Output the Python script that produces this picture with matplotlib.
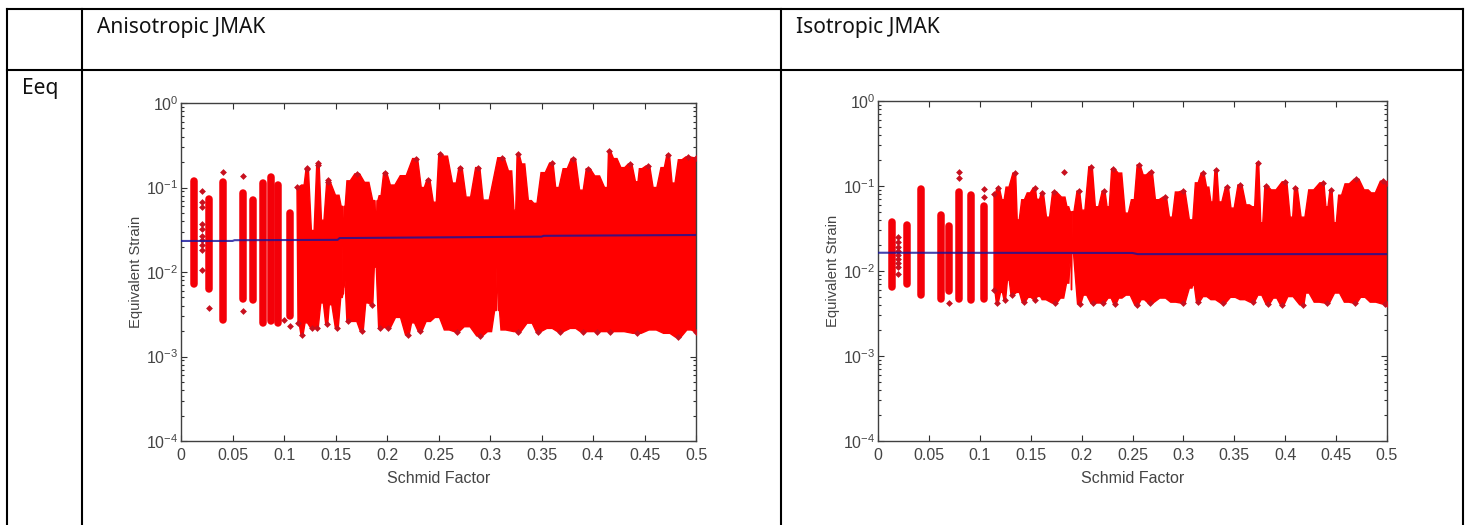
"""
Tabla de dos paneles: deformacion equivalente vs factor de Schmid (JMAK).
Ejecuta:
    python plot.py
"""

import matplotlib
matplotlib.use("Agg")
import matplotlib.pyplot as plt
from matplotlib.lines import Line2D
from matplotlib.ticker import FixedLocator, NullFormatter
import numpy as np

W, H = 1470, 525

plt.rcParams["font.family"] = ["Liberation Sans", "DejaVu Sans"]
plt.rcParams["mathtext.default"] = "regular"
plt.rcParams["axes.unicode_minus"] = False

X_TICKS = [0, 0.05, 0.1, 0.15, 0.2, 0.25, 0.3, 0.35, 0.4, 0.45, 0.5]
X_LABELS = ["0", "0.05", "0.1", "0.15", "0.2", "0.25", "0.3", "0.35", "0.4", "0.45", "0.5"]

# --- Anisotropic JMAK ---
# columnas aisladas de granos
aniso_bar_x = [0.013, 0.0275, 0.041, 0.060, 0.0696, 0.0797, 0.0874, 0.094, 0.1058]
aniso_bar_hi = [0.120, 0.074, 0.115, 0.086, 0.072, 0.112, 0.134, 0.107, 0.050]
aniso_bar_lo = [0.0072, 0.0063, 0.0027, 0.0048, 0.0046, 0.0025, 0.0026, 0.0025, 0.0030]
# puntos sueltos
aniso_pts_x = [0.0204, 0.0204, 0.0204, 0.0204, 0.0204, 0.0204, 0.0204, 0.0204, 0.0204, 0.0204,
               0.0275, 0.041, 0.060, 0.060, 0.1, 0.1058, 0.1223, 0.133, 0.1427]
aniso_pts_y = [0.091, 0.068, 0.058, 0.037, 0.032, 0.027, 0.024, 0.021, 0.018, 0.0106,
               0.0038, 0.154, 0.138, 0.0035, 0.0027, 0.0023, 0.17, 0.195, 0.123]
# contorno superior de la masa continua
aniso_top_x = [0.1126, 0.1186, 0.1223, 0.128, 0.133, 0.1375, 0.1427, 0.1524, 0.1565, 0.1575, 0.1585,
               0.162, 0.171, 0.1806, 0.188, 0.1895, 0.1905, 0.193, 0.198, 0.205, 0.2155, 0.228,
               0.235, 0.24, 0.2466, 0.2515, 0.2563, 0.266, 0.271, 0.2787, 0.2885, 0.295, 0.3117,
               0.32, 0.3243, 0.327, 0.332, 0.339, 0.3437, 0.3515, 0.36, 0.365, 0.373, 0.381, 0.389,
               0.395, 0.404, 0.4136, 0.4155, 0.4214, 0.429, 0.436, 0.443, 0.4457, 0.4534, 0.46,
               0.468, 0.473, 0.478, 0.4845, 0.492, 0.5]
aniso_top_y = [0.101, 0.107, 0.165, 0.031, 0.185, 0.041, 0.115, 0.081, 0.06, 0.0065, 0.06,
               0.12, 0.145, 0.115, 0.07, 0.035, 0.07, 0.08, 0.15, 0.107, 0.138, 0.22,
               0.10, 0.124, 0.067, 0.25, 0.235, 0.113, 0.172, 0.077, 0.172, 0.071, 0.225,
               0.157, 0.054, 0.25, 0.19, 0.07, 0.065, 0.15, 0.195, 0.10, 0.167, 0.22, 0.093,
               0.167, 0.137, 0.10, 0.27, 0.22, 0.172, 0.19, 0.117, 0.167, 0.18, 0.10,
               0.172, 0.245, 0.113, 0.213, 0.23, 0.225]
# contorno inferior de la masa continua
aniso_floor_x = [0.1136, 0.1175, 0.1214, 0.127, 0.132, 0.137, 0.1417, 0.1447, 0.1515, 0.1563, 0.1575,
                 0.1583, 0.162, 0.169, 0.1757, 0.1806, 0.1855, 0.1884, 0.193, 0.201, 0.2107, 0.2204,
                 0.225, 0.232, 0.24, 0.2486, 0.258, 0.2677, 0.2774, 0.2903, 0.30, 0.306, 0.307,
                 0.3085, 0.3114, 0.327, 0.339, 0.3467, 0.358, 0.368, 0.381, 0.39, 0.404, 0.4166,
                 0.426, 0.443, 0.458, 0.472, 0.4826, 0.494, 0.5]
aniso_floor_y = [0.0025, 0.0018, 0.0025, 0.0022, 0.0022, 0.0043, 0.0024, 0.0041, 0.0022, 0.0050, 0.0055,
                 0.0080, 0.0026, 0.0026, 0.0020, 0.0043, 0.0041, 0.0114, 0.0022, 0.0022, 0.0029, 0.0018,
                 0.0025, 0.0020, 0.0026, 0.0029, 0.00206, 0.00197, 0.00225, 0.00175, 0.00197, 0.0035, 0.0111,
                 0.0035, 0.00206, 0.00197, 0.00248, 0.00197, 0.00215, 0.00197, 0.00215, 0.00197, 0.00197, 0.00197,
                 0.00197, 0.00188, 0.00206, 0.00188, 0.0017, 0.00206, 0.00197]
# media
aniso_mean_x = [0, 0.05, 0.052, 0.152, 0.154, 0.25, 0.35, 0.352, 0.45, 0.5]
aniso_mean_y = [0.0233, 0.0233, 0.0238, 0.0240, 0.0252, 0.0257, 0.0262, 0.0268, 0.0272, 0.0274]

# --- Isotropic JMAK ---
iso_bar_x = [0.0138, 0.0285, 0.0422, 0.0619, 0.0697, 0.0795, 0.0913, 0.104]
iso_bar_hi = [0.038, 0.035, 0.092, 0.045, 0.034, 0.084, 0.078, 0.058]
iso_bar_lo = [0.0065, 0.0070, 0.0052, 0.0047, 0.0058, 0.0047, 0.0046, 0.0047]
iso_pts_x = [0.0196, 0.0196, 0.0196, 0.0196, 0.0196, 0.0196, 0.0196, 0.0196, 0.0196,
             0.0697, 0.0795, 0.0795, 0.104, 0.104, 0.1827]
iso_pts_y = [0.025, 0.022, 0.019, 0.0172, 0.0155, 0.014, 0.0125, 0.011, 0.0092,
             0.0042, 0.146, 0.125, 0.092, 0.075, 0.146]
iso_top_x = [0.114, 0.118, 0.123, 0.1267, 0.1345, 0.1375, 0.1424, 0.148, 0.154, 0.1565, 0.157, 0.158,
             0.161, 0.167, 0.173, 0.1827, 0.1866, 0.1895, 0.19, 0.191, 0.197, 0.2013, 0.209, 0.215,
             0.222, 0.226, 0.2307, 0.2377, 0.2445, 0.2504, 0.256, 0.262, 0.268, 0.274, 0.282, 0.2877,
             0.2936, 0.2995, 0.308, 0.313, 0.319, 0.324, 0.328, 0.332, 0.336, 0.343, 0.348, 0.3555,
             0.3635, 0.369, 0.373, 0.377, 0.381, 0.388, 0.4, 0.4065, 0.41, 0.4175, 0.425, 0.437,
             0.441, 0.445, 0.449, 0.4537, 0.4605, 0.47, 0.48, 0.486, 0.496, 0.5]
iso_top_y = [0.08, 0.095, 0.069, 0.097, 0.142, 0.04, 0.069, 0.083, 0.095, 0.07, 0.0055, 0.07,
             0.083, 0.043, 0.085, 0.074, 0.057, 0.05, 0.006, 0.05, 0.087, 0.052, 0.168, 0.057,
             0.087, 0.057, 0.159, 0.142, 0.048, 0.069, 0.177, 0.135, 0.146, 0.069, 0.074, 0.043,
             0.085, 0.087, 0.04, 0.109, 0.142, 0.097, 0.065, 0.154, 0.065, 0.097, 0.055, 0.103,
             0.06, 0.057, 0.187, 0.037, 0.10, 0.09, 0.112, 0.043, 0.095, 0.043, 0.09, 0.109,
             0.057, 0.09, 0.037, 0.078, 0.106, 0.12, 0.09, 0.083, 0.114, 0.109]
iso_floor_x = [0.114, 0.117, 0.1215, 0.1245, 0.128, 0.1316, 0.1375, 0.143, 0.149, 0.154, 0.1572, 0.158,
               0.1588, 0.162, 0.174, 0.181, 0.1866, 0.19, 0.198, 0.203, 0.211, 0.221, 0.2278, 0.2327,
               0.2377, 0.2455, 0.2543, 0.26, 0.267, 0.28, 0.29, 0.2995, 0.308, 0.3095, 0.314, 0.321,
               0.329, 0.339, 0.3486, 0.358, 0.368, 0.375, 0.383, 0.39, 0.397, 0.4045, 0.4175, 0.421,
               0.431, 0.441, 0.451, 0.4605, 0.4685, 0.476, 0.486, 0.498, 0.5]
iso_floor_y = [0.006, 0.0042, 0.0056, 0.0046, 0.0078, 0.0052, 0.0056, 0.0043, 0.0049, 0.0046, 0.005, 0.0167,
               0.005, 0.0046, 0.0042, 0.0048, 0.0072, 0.0163, 0.0041, 0.0052, 0.0042, 0.0042, 0.0048, 0.0041,
               0.0048, 0.0052, 0.0040, 0.0046, 0.0042, 0.0048, 0.0043, 0.0042, 0.0063, 0.0068, 0.0043, 0.0050,
               0.0046, 0.0042, 0.0049, 0.0046, 0.0043, 0.0052, 0.0041, 0.0048, 0.0040, 0.0050, 0.0040, 0.0055,
               0.0043, 0.0042, 0.0055, 0.0043, 0.0042, 0.0049, 0.0043, 0.0041, 0.0041]
iso_mean_x = [0, 0.25, 0.255, 0.5]
iso_mean_y = [0.0164, 0.0163, 0.0158, 0.0158]


def skyline(x, y):
    """Cada columna queda con techo plano y flancos inclinados hacia la siguiente."""
    x = np.asarray(x)
    y = np.asarray(y)
    gap = np.diff(x)
    left = x.copy()
    right = x.copy()
    left[1:] = x[1:] - 0.25 * gap
    right[:-1] = x[:-1] + 0.25 * gap
    return np.column_stack([left, right]).ravel(), np.repeat(y, 2)


def extremes(x, y, sign):
    """Solo los picos (sign=1) o los minimos (sign=-1) llevan marcador."""
    x = np.asarray(x)
    y = np.asarray(y) * sign
    keep = np.ones(len(y), dtype=bool)
    keep[1:-1] = (y[1:-1] >= y[:-2]) & (y[1:-1] >= y[2:])
    return x[keep], y[keep] * sign


def plot_panel(fig, box, bar, pts, top, floor, mean):
    left, top_px, right, bottom = box
    ax = fig.add_axes([left / W, 1 - bottom / H, (right - left) / W, (bottom - top_px) / H])
    ax.set_yscale("log")
    ax.set_xlim(0, 0.5)
    ax.set_ylim(1e-4, 1)

    # masa continua: contorno superior + inferior
    tx, ty = skyline(*top)
    fx, fy = skyline(*floor)
    ax.fill(np.concatenate([tx, fx[::-1]]), np.concatenate([ty, fy[::-1]]),
            color="#ff0000", lw=1.0, zorder=2)
    ax.vlines(bar[0], bar[2], bar[1], color="#f40008", lw=5.4, capstyle="round", zorder=2)

    # marcadores en los bordes
    mk = dict(marker="D", s=12, color="#c8101e", linewidths=0, zorder=3)
    ax.scatter(*extremes(*top, 1), **mk)
    ax.scatter(*extremes(*floor, -1), **mk)
    ax.scatter(pts[0], pts[1], **mk)

    ax.plot(mean[0], mean[1], color="#14149c", lw=1.5, alpha=0.8, zorder=4)

    ax.set_xticks(X_TICKS)
    ax.set_xticklabels(X_LABELS)
    ax.set_yticks([1e-4, 1e-3, 1e-2, 1e-1, 1])
    ax.set_yticklabels(["$10^{-4}$", "$10^{-3}$", "$10^{-2}$", "$10^{-1}$", "$10^{0}$"])
    minors = [m * 10.0 ** e for e in range(-4, 0) for m in range(2, 10)]
    ax.yaxis.set_minor_locator(FixedLocator(minors))
    ax.yaxis.set_minor_formatter(NullFormatter())
    ax.tick_params(axis="both", which="major", direction="in", top=True, right=True,
                   length=4, width=0.8, color="#303030", labelsize=11.5, labelcolor="#444444", pad=5)
    ax.tick_params(axis="y", which="major", pad=2)
    ax.tick_params(axis="y", which="minor", direction="in", left=True, right=True,
                   length=2.5, width=0.8, color="#303030")
    for s in ax.spines.values():
        s.set_color("#404040")
        s.set_linewidth(1.0)
    ax.set_xlabel("Schmid Factor", fontsize=11.5, color="#444444", labelpad=6)
    ax.set_ylabel("Equivalent Strain", fontsize=10.6, color="#444444", labelpad=2)
    return ax


def main():
    fig = plt.figure(figsize=(W / 100, H / 100), dpi=100, facecolor="white")

    # lineas de la tabla
    for x in [7, 82, 781, 1463]:
        fig.add_artist(Line2D([x / W, x / W], [1 - 9 / H, 0], color="black", lw=1.5))
    for y in [9, 70]:
        fig.add_artist(Line2D([7 / W, 1463 / W], [1 - y / H, 1 - y / H], color="black", lw=1.5))

    head = dict(fontsize=15.1, family="Noto Sans", color="#111111")
    fig.text(97 / W, 1 - 33 / H, "Anisotropic JMAK", **head)
    fig.text(796 / W, 1 - 33 / H, "Isotropic JMAK", **head)
    fig.text(22 / W, 1 - 94 / H, "Eeq", **head)

    plot_panel(fig, (181, 103, 696, 441),
               (aniso_bar_x, aniso_bar_hi, aniso_bar_lo), (aniso_pts_x, aniso_pts_y),
               (aniso_top_x, aniso_top_y), (aniso_floor_x, aniso_floor_y),
               (aniso_mean_x, aniso_mean_y))
    plot_panel(fig, (878, 101, 1387, 441),
               (iso_bar_x, iso_bar_hi, iso_bar_lo), (iso_pts_x, iso_pts_y),
               (iso_top_x, iso_top_y), (iso_floor_x, iso_floor_y),
               (iso_mean_x, iso_mean_y))

    fig.savefig("out.png", dpi=100)
    plt.close(fig)


if __name__ == "__main__":
    main()
